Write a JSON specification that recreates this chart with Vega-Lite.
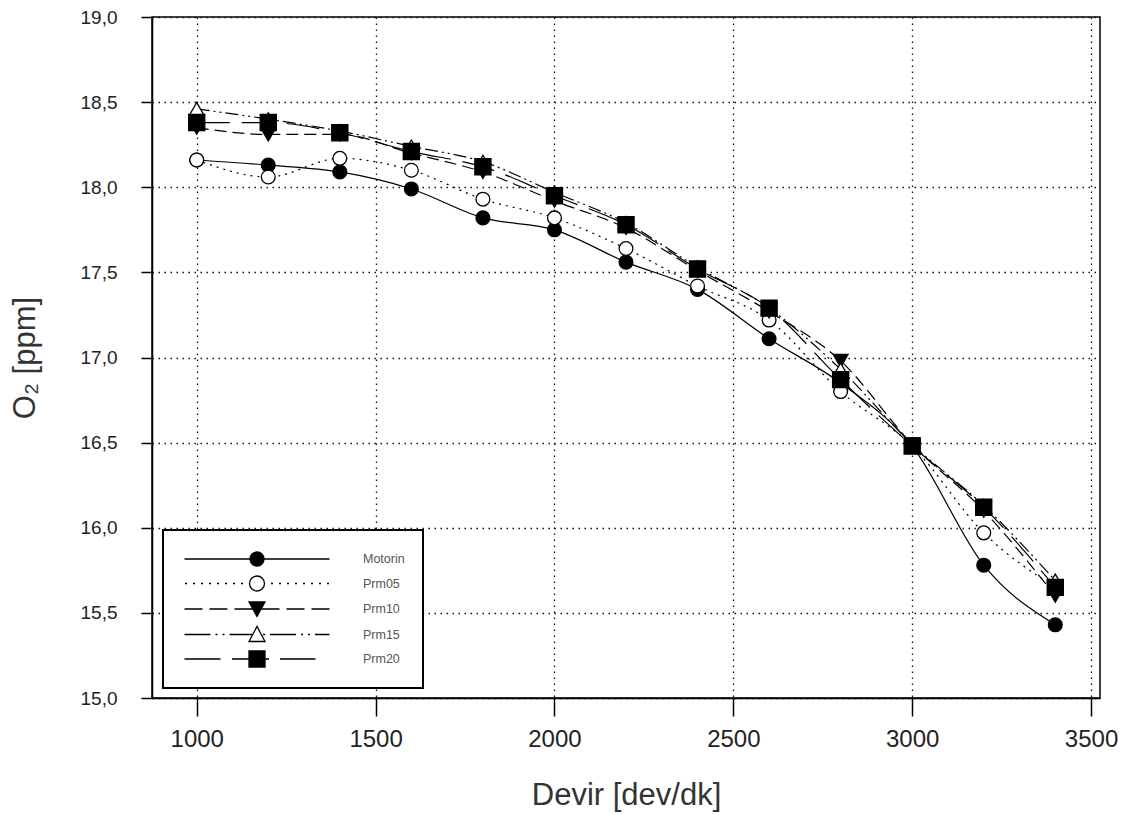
{
  "$schema": "https://vega.github.io/schema/vega-lite/v6.json",
  "autosize": "none",
  "width": 948,
  "height": 681,
  "padding": {"left": 152, "top": 17, "right": 30, "bottom": 116},
  "background": "white",
  "config": {
    "font": "Liberation Sans",
    "view": {"stroke": "#000", "strokeWidth": 1.5},
    "axis": {
      "domainColor": "#000", "domainWidth": 1.5,
      "tickColor": "#000", "tickWidth": 1.5,
      "grid": true, "gridColor": "#111", "gridDash": [1.5, 4.5], "gridWidth": 1.3,
      "labelFont": "Liberation Sans", "labelColor": "#222",
      "titleFont": "Liberation Sans", "titleFontSize": 31, "titleFontWeight": "normal", "titleColor": "#333"
    },
    "legend": {"labelFont": "Liberation Sans", "strokeWidth": 2},
    "line": {"color": "#000", "strokeWidth": 1.2, "interpolate": "monotone"},
    "point": {"stroke": "#000", "strokeWidth": 1.3, "opacity": 1}
  },
  "data": {"values": [
    {"rpm": 1000, "o2": 18.16, "series": "Motorin"},
    {"rpm": 1200, "o2": 18.13, "series": "Motorin"},
    {"rpm": 1400, "o2": 18.09, "series": "Motorin"},
    {"rpm": 1600, "o2": 17.99, "series": "Motorin"},
    {"rpm": 1800, "o2": 17.82, "series": "Motorin"},
    {"rpm": 2000, "o2": 17.75, "series": "Motorin"},
    {"rpm": 2200, "o2": 17.56, "series": "Motorin"},
    {"rpm": 2400, "o2": 17.40, "series": "Motorin"},
    {"rpm": 2600, "o2": 17.11, "series": "Motorin"},
    {"rpm": 2800, "o2": 16.85, "series": "Motorin"},
    {"rpm": 3000, "o2": 16.48, "series": "Motorin"},
    {"rpm": 3200, "o2": 15.78, "series": "Motorin"},
    {"rpm": 3400, "o2": 15.43, "series": "Motorin"},
    {"rpm": 1000, "o2": 18.16, "series": "Prm05"},
    {"rpm": 1200, "o2": 18.06, "series": "Prm05"},
    {"rpm": 1400, "o2": 18.17, "series": "Prm05"},
    {"rpm": 1600, "o2": 18.10, "series": "Prm05"},
    {"rpm": 1800, "o2": 17.93, "series": "Prm05"},
    {"rpm": 2000, "o2": 17.82, "series": "Prm05"},
    {"rpm": 2200, "o2": 17.64, "series": "Prm05"},
    {"rpm": 2400, "o2": 17.42, "series": "Prm05"},
    {"rpm": 2600, "o2": 17.22, "series": "Prm05"},
    {"rpm": 2800, "o2": 16.80, "series": "Prm05"},
    {"rpm": 3000, "o2": 16.48, "series": "Prm05"},
    {"rpm": 3200, "o2": 15.97, "series": "Prm05"},
    {"rpm": 3400, "o2": 15.65, "series": "Prm05"},
    {"rpm": 1000, "o2": 18.35, "series": "Prm10"},
    {"rpm": 1200, "o2": 18.31, "series": "Prm10"},
    {"rpm": 1400, "o2": 18.31, "series": "Prm10"},
    {"rpm": 1600, "o2": 18.20, "series": "Prm10"},
    {"rpm": 1800, "o2": 18.09, "series": "Prm10"},
    {"rpm": 2000, "o2": 17.92, "series": "Prm10"},
    {"rpm": 2200, "o2": 17.76, "series": "Prm10"},
    {"rpm": 2400, "o2": 17.51, "series": "Prm10"},
    {"rpm": 2600, "o2": 17.27, "series": "Prm10"},
    {"rpm": 2800, "o2": 16.98, "series": "Prm10"},
    {"rpm": 3000, "o2": 16.49, "series": "Prm10"},
    {"rpm": 3200, "o2": 16.10, "series": "Prm10"},
    {"rpm": 3400, "o2": 15.60, "series": "Prm10"},
    {"rpm": 1000, "o2": 18.46, "series": "Prm15"},
    {"rpm": 1200, "o2": 18.40, "series": "Prm15"},
    {"rpm": 1400, "o2": 18.33, "series": "Prm15"},
    {"rpm": 1600, "o2": 18.24, "series": "Prm15"},
    {"rpm": 1800, "o2": 18.15, "series": "Prm15"},
    {"rpm": 2000, "o2": 17.97, "series": "Prm15"},
    {"rpm": 2200, "o2": 17.79, "series": "Prm15"},
    {"rpm": 2400, "o2": 17.53, "series": "Prm15"},
    {"rpm": 2600, "o2": 17.29, "series": "Prm15"},
    {"rpm": 2800, "o2": 16.93, "series": "Prm15"},
    {"rpm": 3000, "o2": 16.49, "series": "Prm15"},
    {"rpm": 3200, "o2": 16.13, "series": "Prm15"},
    {"rpm": 3400, "o2": 15.69, "series": "Prm15"},
    {"rpm": 1000, "o2": 18.38, "series": "Prm20"},
    {"rpm": 1200, "o2": 18.38, "series": "Prm20"},
    {"rpm": 1400, "o2": 18.32, "series": "Prm20"},
    {"rpm": 1600, "o2": 18.21, "series": "Prm20"},
    {"rpm": 1800, "o2": 18.12, "series": "Prm20"},
    {"rpm": 2000, "o2": 17.95, "series": "Prm20"},
    {"rpm": 2200, "o2": 17.78, "series": "Prm20"},
    {"rpm": 2400, "o2": 17.52, "series": "Prm20"},
    {"rpm": 2600, "o2": 17.29, "series": "Prm20"},
    {"rpm": 2800, "o2": 16.87, "series": "Prm20"},
    {"rpm": 3000, "o2": 16.48, "series": "Prm20"},
    {"rpm": 3200, "o2": 16.12, "series": "Prm20"},
    {"rpm": 3400, "o2": 15.65, "series": "Prm20"}
  ]},
  "encoding": {
    "x": {
      "field": "rpm", "type": "quantitative",
      "scale": {"domain": [875, 3525], "nice": false, "zero": false},
      "axis": {"title": "Devir [dev/dk]", "values": [1000, 1500, 2000, 2500, 3000, 3500], "format": "d",
               "labelFontSize": 24, "tickSize": 18, "labelPadding": 11, "titlePadding": 29}
    },
    "y": {
      "field": "o2", "type": "quantitative",
      "scale": {"domain": [15, 19], "nice": false, "zero": false},
      "axis": {"title": "O₂ [ppm]", "values": [15, 15.5, 16, 16.5, 17, 17.5, 18, 18.5, 19],
               "labelExpr": "replace(format(datum.value, '.1f'), '.', ',')",
               "labelFontSize": 19, "tickSize": 11, "labelPadding": 24, "titlePadding": 39}
    }
  },
  "layer": [
    {
      "transform": [{"filter": "datum.series === 'Motorin'"}],
      "layer": [
        {"mark": {"type": "line"}, "encoding": {}},
        {"mark": {"type": "point", "shape": "circle", "fill": "#000", "size": 190}}
      ]
    },
    {
      "transform": [{"filter": "datum.series === 'Prm05'"}],
      "layer": [
        {"mark": {"type": "line", "strokeDash": [2, 5]}, "encoding": {}},
        {"mark": {"type": "point", "shape": "circle", "fill": "#fff", "size": 190}}
      ]
    },
    {
      "transform": [{"filter": "datum.series === 'Prm10'"}],
      "layer": [
        {"mark": {"type": "line", "strokeDash": [12, 6]}, "encoding": {}},
        {"mark": {"type": "point", "shape": "triangle-down", "fill": "#000", "size": 220}}
      ]
    },
    {
      "transform": [{"filter": "datum.series === 'Prm15'"}],
      "layer": [
        {"mark": {"type": "line", "strokeDash": [13, 4, 2, 4, 2, 4]}, "encoding": {}},
        {"mark": {"type": "point", "shape": "triangle-up", "fill": "#fff", "size": 220}}
      ]
    },
    {
      "transform": [{"filter": "datum.series === 'Prm20'"}],
      "layer": [
        {"mark": {"type": "line", "strokeDash": [33, 12]}, "encoding": {}},
        {"mark": {"type": "point", "shape": "square", "fill": "#000", "size": 260}}
      ]
    },
    {
      "transform": [{"filter": "datum.rpm < 0"}],
      "mark": {"type": "point", "filled": false, "stroke": "#000", "strokeWidth": 1.3},
      "encoding": {
        "shape": {
          "field": "series", "type": "nominal",
          "scale": {"domain": ["Motorin", "Prm05", "Prm10", "Prm15", "Prm20"],
                    "range": [
                      "M-7.25,0H7.25M0.7,0A0.7,0.7,0,1,1,-0.7,0A0.7,0.7,0,1,1,0.7,0Z",
                      "M-7.2,0h0.2M-6.4,0h0.2M-5.6,0h0.2M-4.8,0h0.2M-4,0h0.2M-3.2,0h0.2M-2.4,0h0.2M-1.6,0h0.2M1.4,0h0.2M2.2,0h0.2M3,0h0.2M3.8,0h0.2M4.6,0h0.2M5.4,0h0.2M6.2,0h0.2M7,0h0.2M0.75,0A0.75,0.75,0,1,1,-0.75,0A0.75,0.75,0,1,1,0.75,0Z",
                      "M-7.25,0H-5.45M-4.75,0H-2.95M-2.25,0H-0.45M0.45,0H2.25M2.95,0H4.75M5.45,0H7.25M-0.8,-0.7L0.8,-0.7L0,0.75Z",
                      "M-7.25,0H-4.65M-4.15,0H-3.95M-3.45,0H-3.25M-2.75,0H-0.5M0.6,0H0.8M1.3,0H3.9M4.4,0H4.6M5.1,0H5.3M5.8,0H7.25M-0.8,0.7L0.8,0.7L0,-0.8Z",
                      "M-7.25,0H-3.65M-2.5,0H-0.8M0.8,0H1.2M2.3,0H5.85M-0.8,-0.8H0.8V0.8H-0.8Z"
                    ]},
          "legend": {
            "title": null, "orient": "none", "legendX": 11, "legendY": 513,
            "fillColor": "white", "strokeColor": "#000", "padding": 18,
            "symbolSize": 400, "symbolStrokeWidth": 1.3, "symbolStrokeColor": "#000",
            "symbolOffset": 65, "labelOffset": 95, "labelFontSize": 12.5, "labelColor": "#555",
            "rowPadding": 3.5, "labelExpr": "datum.label + '       '"
          }
        },
        "fill": {
          "field": "series", "type": "nominal",
          "scale": {"domain": ["Motorin", "Prm05", "Prm10", "Prm15", "Prm20"],
                    "range": ["#000", "#fff", "#000", "#fff", "#000"]},
          "legend": {
            "title": null, "orient": "none", "legendX": 11, "legendY": 513,
            "fillColor": "white", "strokeColor": "#000", "padding": 18,
            "symbolSize": 400, "symbolStrokeWidth": 1.3, "symbolStrokeColor": "#000",
            "symbolOffset": 65, "labelOffset": 95, "labelFontSize": 12.5, "labelColor": "#555",
            "rowPadding": 3.5, "labelExpr": "datum.label + '       '"
          }
        },
        "stroke": {
          "field": "series", "type": "nominal",
          "scale": {"domain": ["Motorin", "Prm05", "Prm10", "Prm15", "Prm20"],
                    "range": ["#000", "#000", "#000", "#000", "#000"]},
          "legend": {
            "title": null, "orient": "none", "legendX": 11, "legendY": 513,
            "fillColor": "white", "strokeColor": "#000", "padding": 18,
            "symbolSize": 400, "symbolStrokeWidth": 1.3, "symbolStrokeColor": "#000",
            "symbolOffset": 65, "labelOffset": 95, "labelFontSize": 12.5, "labelColor": "#555",
            "rowPadding": 3.5, "labelExpr": "datum.label + '       '"
          }
        }
      }
    }
  ]
}
